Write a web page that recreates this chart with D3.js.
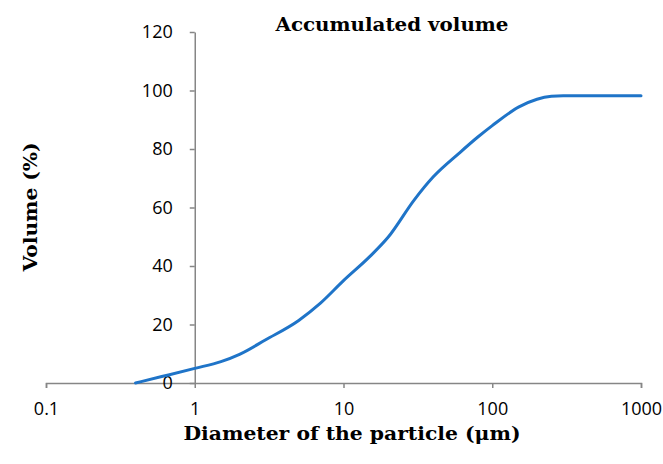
<!doctype html>
<html>
<head>
  <meta charset="utf-8">
  <script src="https://d3js.org/d3.v7.min.js"></script>
  <style>
    body {margin: 0; background: #fff;}
    .axis path, .axis line {stroke: #868686; stroke-width: 1.5;}
    .axis text {font-family: "Open Sans", sans-serif; font-size: 18px; fill: #000;}
    .lbl {font-family: "DejaVu Serif", serif; font-weight: bold; font-size: 19px; fill: #000;}
  </style>
</head>
<body>
  <svg width="663" height="464"></svg>
  <script>
    // particle size (um) and accumulated volume (%)
    const diameters = [0.4, 0.6, 1, 1.5, 2, 3, 5, 7, 10, 15, 20, 30, 40, 60, 80, 100, 150, 200, 250, 300, 500, 1000];
    const volumes   = [0, 2.2, 5.0, 7.3, 9.8, 14.8, 21.4, 27.3, 35, 43.2, 49.9, 62.7, 70.4, 78.6, 84.1, 88, 94.3, 97.0, 98.0, 98.2, 98.2, 98.2];
    const xTicks = [0.1, 1, 10, 100, 1000];
    const yTicks = [0, 20, 40, 60, 80, 100, 120];

    const svg = d3.select('svg');
    const x = d3.scaleLog().domain([0.1, 1000]).range([46, 641]);
    const y = d3.scaleLinear().domain([0, 120]).range([383, 32]);

    svg.append('g').attr('class', 'axis')
      .attr('transform', `translate(0,${y(0)})`)
      .call(d3.axisBottom(x).tickValues(xTicks).tickFormat(d => d.toString()).tickSize(5).tickPadding(14).tickSizeOuter(5));

    svg.append('g').attr('class', 'axis')
      .attr('transform', `translate(${x(1)},0)`)
      .call(d3.axisLeft(y).tickValues(yTicks).tickSize(5).tickPadding(17).tickSizeOuter(0));

    const pts = diameters.map((d, i) => [d, volumes[i]]);
    svg.append('path')
      .datum(pts)
      .attr('fill', 'none')
      .attr('stroke', '#1f74c8')
      .attr('stroke-width', 3)
      .attr('stroke-linecap', 'round')
      .attr('d', d3.line().x(d => x(d[0])).y(d => y(d[1])).curve(d3.curveMonotoneX));

    svg.append('text').attr('class', 'lbl')
      .attr('x', 392).attr('y', 31).attr('text-anchor', 'middle')
      .attr('textLength', 233).attr('lengthAdjust', 'spacingAndGlyphs')
      .text('Accumulated volume');

    svg.append('text').attr('class', 'lbl')
      .attr('x', 352).attr('y', 440).attr('text-anchor', 'middle')
      .attr('textLength', 337).attr('lengthAdjust', 'spacingAndGlyphs')
      .text('Diameter of the particle (μm)');

    svg.append('text').attr('class', 'lbl')
      .attr('transform', 'translate(37,207) rotate(-90)')
      .attr('text-anchor', 'middle')
      .attr('textLength', 129).attr('lengthAdjust', 'spacingAndGlyphs')
      .text('Volume (%)');
  </script>
</body>
</html>
